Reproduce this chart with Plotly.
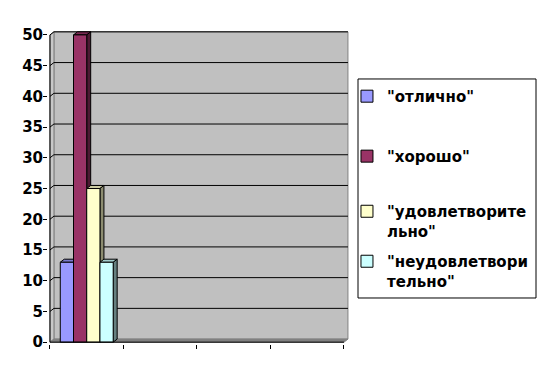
import plotly.graph_objects as go

# ---- data ----
categories = [0, 1, 2, 3]          # four category slots; only the first holds data
cat_labels = ["", "", "", "", ""]
series_names = ['"отлично"', '"хорошо"', '"удовлетворите<br>льно"', '"неудовлетвори<br>тельно"']
values_otlichno = [13, None, None, None]
values_khorosho = [50, None, None, None]
values_udovl = [25, None, None, None]
values_neudovl = [13, None, None, None]
y_ticks = [0, 5, 10, 15, 20, 25, 30, 35, 40, 45, 50]

series_values = [values_otlichno, values_khorosho, values_udovl, values_neudovl]
front_colors = ["#9999FF", "#993366", "#FFFFCC", "#CCFFFF"]
top_colors = ["#7A7ACC", "#7A2952", "#CCCCA3", "#A3CCCC"]
side_colors = ["#5C5C99", "#4D1A33", "#8C8C70", "#668080"]
legend_tops = [0.841, 0.650, 0.4745, 0.3153]   # one legend block per series

bar_w = 0.18
dx, dy = 0.054, 0.5          # 3-D depth offset in data units
x_lo, x_hi = -0.5, 3.5
y_top = max(y_ticks)

fig = go.Figure()
shapes = []

# back wall, side wall, floor
shapes.append(dict(type="path", layer="below", xref="x", yref="y",
                   path=f"M{x_lo+dx},{dy} L{x_hi+dx},{dy} L{x_hi+dx},{y_top+dy} L{x_lo+dx},{y_top+dy} Z",
                   fillcolor="#C0C0C0", line=dict(color="#808080", width=1)))
shapes.append(dict(type="path", layer="below", xref="x", yref="y",
                   path=f"M{x_lo},0 L{x_lo+dx},{dy} L{x_lo+dx},{y_top+dy} L{x_lo},{y_top} Z",
                   fillcolor="#C8C8C8", line=dict(color="#808080", width=1)))
shapes.append(dict(type="path", layer="below", xref="x", yref="y",
                   path=f"M{x_lo},0 L{x_hi},0 L{x_hi+dx},{dy} L{x_lo+dx},{dy} Z",
                   fillcolor="#808080", line=dict(color="#808080", width=1)))
# gridlines on the wall
for v in y_ticks[1:]:
    shapes.append(dict(type="path", layer="below", xref="x", yref="y",
                       path=f"M{x_lo},{v} L{x_lo+dx},{v+dy} L{x_hi+dx},{v+dy}",
                       line=dict(color="black", width=1)))

legend_ids = ["legend", "legend2", "legend3", "legend4"]
for i, (name, vals) in enumerate(zip(series_names, series_values)):
    off = -2 * bar_w + i * bar_w
    fig.add_trace(go.Bar(
        x=categories, y=vals, name=name, width=bar_w, offset=off,
        marker=dict(color=front_colors[i], line=dict(color="black", width=1)),
        legend=legend_ids[i], showlegend=True,
    ))
    for j, v in zip(categories, vals):
        if v is None:
            continue
        x0 = j + off
        x1 = x0 + bar_w
        shapes.append(dict(type="path", layer="below", xref="x", yref="y",
                           path=f"M{x0},{v} L{x1},{v} L{x1+dx},{v+dy} L{x0+dx},{v+dy} Z",
                           fillcolor=top_colors[i], line=dict(color="black", width=1)))
        shapes.append(dict(type="path", layer="below", xref="x", yref="y",
                           path=f"M{x1},0 L{x1},{v} L{x1+dx},{v+dy} L{x1+dx},{dy} Z",
                           fillcolor=side_colors[i], line=dict(color="black", width=1)))

# axis lines
shapes.append(dict(type="line", layer="above", xref="x", yref="y",
                   x0=x_lo, x1=x_lo, y0=0, y1=y_top, line=dict(color="black", width=1)))
shapes.append(dict(type="line", layer="above", xref="x", yref="y",
                   x0=x_lo, x1=x_hi, y0=0, y1=0, line=dict(color="black", width=1)))
# legend frame
shapes.append(dict(type="rect", layer="below", xref="paper", yref="paper",
                   x0=1.0265, x1=1.6159, y0=0.1465, y1=0.844,
                   fillcolor="white", line=dict(color="black", width=1)))

legend_font = dict(family="DejaVu Sans", size=15, color="black", weight="bold")
layout_legends = {}
for lid, top in zip(legend_ids, legend_tops):
    layout_legends[lid] = dict(x=0.990, xanchor="left", y=top, yanchor="top",
                               bgcolor="rgba(0,0,0,0)", borderwidth=0,
                               font=legend_font, valign="top", visible=True)

fig.update_layout(
    width=539, height=371,
    margin=dict(l=40, r=197, t=22, b=35, autoexpand=False),
    paper_bgcolor="white", plot_bgcolor="white",
    barmode="overlay",
    showlegend=True,
    shapes=shapes,
    font=dict(family="DejaVu Sans", size=15, color="black"),
    xaxis=dict(range=[x_lo - 0.027, x_hi + 0.082], showgrid=False, zeroline=False, showline=False,
               tickmode="array", tickvals=[-0.5, 0.5, 1.5, 2.5, 3.5], ticktext=cat_labels,
               ticks="outside", ticklen=4, tickcolor="black"),
    yaxis=dict(range=[-0.3, 50.8], showgrid=False, zeroline=False, showline=False,
               tickmode="array", tickvals=y_ticks,
               ticks="outside", ticklen=4, tickcolor="black", ticklabelstandoff=-3,
               tickfont=dict(family="DejaVu Sans", size=15, color="black", weight="bold")),
    **layout_legends,
)

fig.write_html("out.html")
